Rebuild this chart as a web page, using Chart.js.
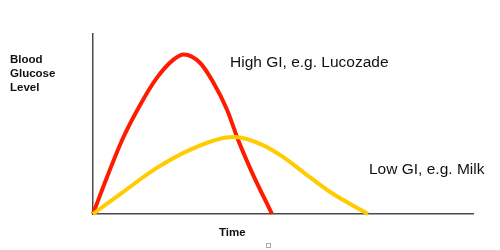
<!DOCTYPE html>
<html>
<head>
<meta charset="utf-8">
<script src="https://cdn.jsdelivr.net/npm/chart.js@4"></script>
<style>
  html, body { margin: 0; padding: 0; background: #fff; }
  #wrap { position: relative; width: 500px; height: 250px; overflow: hidden; }
  canvas { position: absolute; left: 0; top: 0; }
  .lbl { position: absolute; font-family: "Liberation Sans", Arial, sans-serif; color: #111; white-space: nowrap; }
  .big { font-size: 15.5px; line-height: 18px; }
  .bold { font-weight: bold; font-size: 11.5px; line-height: 13.8px; }
  #mark { position: absolute; left: 266px; top: 243px; width: 3px; height: 3px; border: 1px solid #aaa; }
</style>
</head>
<body>
<div id="wrap">
  <canvas id="c" width="500" height="250"></canvas>
  <div class="lbl bold" style="left:10px; top:53px;">Blood<br>Glucose<br>Level</div>
  <div class="lbl bold" style="left:219px; top:226px;">Time</div>
  <div class="lbl big" style="left:230px; top:53px;">High GI, e.g. Lucozade</div>
  <div class="lbl big" style="left:369px; top:160px;">Low GI, e.g. Milk</div>
  <div id="mark"></div>
</div>
<script>
// High GI (Lucozade) curve: time vs blood glucose
const highTime    = [0, 3.6, 7.9, 12.4, 16.8, 21.1, 23.9, 28.2, 31.6, 35.3, 38.2, 41.8, 47.1];
const highGlucose = [0, 20, 42.2, 60.6, 75.6, 85.6, 88.6, 83.9, 73.3, 57.8, 41.1, 23.3, 0];
// Low GI (Milk) curve
const lowTime     = [0, 7.9, 16.8, 25.5, 34.2, 37.4, 44.7, 50, 55.3, 62.4, 72.4];
const lowGlucose  = [0, 12.2, 25.6, 35.6, 42.2, 42.8, 38.3, 31.7, 23.3, 12.2, 0];

const toPoints = (xs, ys) => xs.map((x, i) => ({ x: x, y: ys[i] }));

new Chart(document.getElementById('c'), {
  type: 'line',
  data: {
    datasets: [
      {
        label: 'Low GI, e.g. Milk',
        data: toPoints(lowTime, lowGlucose),
        borderColor: '#ffcc00',
        borderWidth: 4,
        pointRadius: 0,
        cubicInterpolationMode: 'monotone',
        clip: false,
        fill: false
      },
      {
        label: 'High GI, e.g. Lucozade',
        data: toPoints(highTime, highGlucose),
        borderColor: '#ff1a00',
        borderWidth: 4,
        pointRadius: 0,
        cubicInterpolationMode: 'monotone',
        clip: false,
        fill: false
      }
    ]
  },
  options: {
    responsive: false,
    animation: false,
    layout: { padding: { left: 93, right: 27, top: 34, bottom: 36 } },
    plugins: { legend: { display: false }, tooltip: { enabled: false } },
    scales: {
      x: {
        type: 'linear', min: 0, max: 100,
        grid: { display: false },
        border: { display: true, color: '#4a4a4a', width: 1.5 },
        ticks: { display: false },
        afterFit: s => { s.height = 0; }
      },
      y: {
        type: 'linear', min: 0, max: 100,
        grid: { display: false },
        border: { display: true, color: '#4a4a4a', width: 1.5 },
        ticks: { display: false },
        afterFit: s => { s.width = 0; }
      }
    }
  }
});
</script>
</body>
</html>
